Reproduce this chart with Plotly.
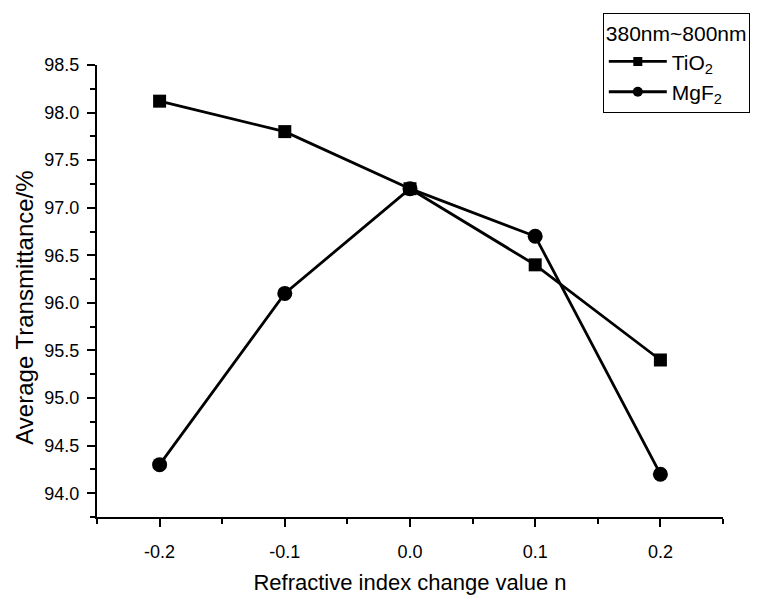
import plotly.graph_objects as go

x_vals = [-0.2, -0.1, 0.0, 0.1, 0.2]
tio2 = [98.12, 97.80, 97.20, 96.40, 95.40]
mgf2 = [94.30, 96.10, 97.20, 96.70, 94.20]

x_ticks = [-0.2, -0.1, 0.0, 0.1, 0.2]
x_ticktext = ["-0.2", "-0.1", "0.0", "0.1", "0.2"]
y_ticks = [94.0, 94.5, 95.0, 95.5, 96.0, 96.5, 97.0, 97.5, 98.0, 98.5]
y_ticktext = ["94.0", "94.5", "95.0", "95.5", "96.0", "96.5", "97.0", "97.5", "98.0", "98.5"]

FONT = "Liberation Sans, Arial, sans-serif"

fig = go.Figure()
fig.add_trace(go.Scatter(
    x=x_vals, y=tio2, mode="lines+markers", name="TiO<sub>2</sub>", showlegend=False,
    line=dict(color="black", width=2.8),
    marker=dict(symbol="square", size=13, color="black"),
))
fig.add_trace(go.Scatter(
    x=x_vals, y=mgf2, mode="lines+markers", name="MgF<sub>2</sub>", showlegend=False,
    line=dict(color="black", width=2.8),
    marker=dict(symbol="circle", size=15, color="black"),
))
# legend entries (smaller symbols, as in the reference legend)
fig.add_trace(go.Scatter(
    x=[None], y=[None], mode="lines+markers", name="TiO<sub>2</sub>",
    line=dict(color="black", width=2.8),
    marker=dict(symbol="square", size=9, color="black"),
))
fig.add_trace(go.Scatter(
    x=[None], y=[None], mode="lines+markers", name="MgF<sub>2</sub>",
    line=dict(color="black", width=2.8),
    marker=dict(symbol="circle", size=10, color="black"),
))

fig.update_layout(
    width=762, height=603,
    margin=dict(l=97, r=39, t=65, b=70, pad=0),
    paper_bgcolor="white", plot_bgcolor="white",
    font=dict(family=FONT, color="black", size=18),
    legend=dict(
        title=dict(text="380nm~800nm", font=dict(size=21)),
        font=dict(size=21),
        x=0.808, y=1.115, xanchor="left", yanchor="top",
        bordercolor="black", borderwidth=1, bgcolor="white",
        itemwidth=58, tracegroupgap=0,
    ),
    xaxis=dict(
        range=[-0.25, 0.25], tickvals=x_ticks, ticktext=x_ticktext,
        showgrid=False, zeroline=False, showline=True, linecolor="black", linewidth=2,
        ticks="outside", ticklen=8, tickwidth=2, tickcolor="black",
        minor=dict(dtick=0.05, tick0=-0.25, ticks="outside", ticklen=5, tickwidth=2, tickcolor="black"),
        title=dict(text="Refractive index change value n", font=dict(size=22), standoff=14),
        tickfont=dict(size=18), ticklabelstandoff=9,
    ),
    yaxis=dict(
        range=[93.75, 98.5], tickvals=y_ticks, ticktext=y_ticktext,
        showgrid=False, zeroline=False, showline=True, linecolor="black", linewidth=2,
        ticks="outside", ticklen=8, tickwidth=2, tickcolor="black",
        minor=dict(dtick=0.25, tick0=93.75, ticks="outside", ticklen=5, tickwidth=2, tickcolor="black"),
        tickfont=dict(size=18), ticklabelstandoff=4,
    ),
    annotations=[dict(
        text="Average Transmittance/%", textangle=-90,
        xref="paper", yref="paper", x=-0.115, y=0.463,
        xanchor="center", yanchor="middle", showarrow=False,
        font=dict(size=24, family=FONT, color="black"),
    )],
)

fig.write_html("out.html")
